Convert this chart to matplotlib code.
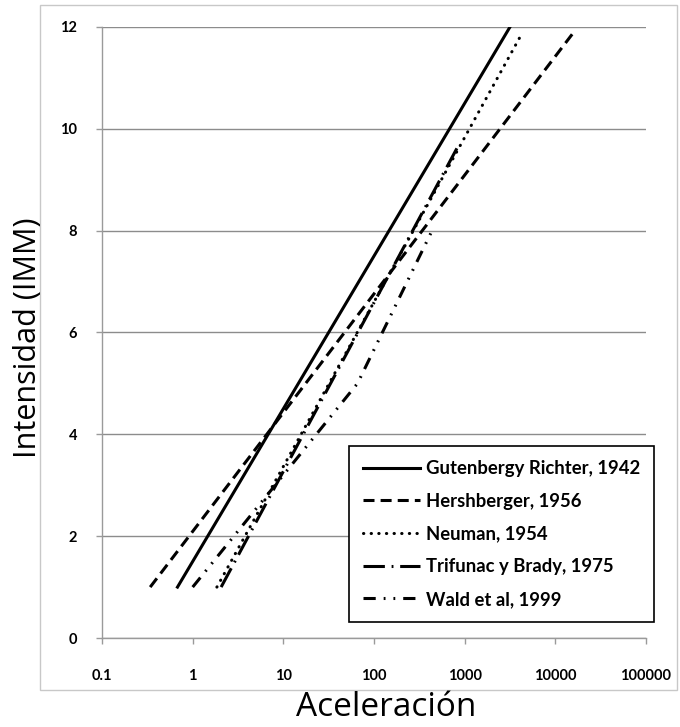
import matplotlib
matplotlib.use("Agg")
import matplotlib.pyplot as plt
from matplotlib.patches import Rectangle

# acceleration (cm/s2) vs MMI intensity, straight lines on a log axis
gr_acc = [0.68, 3160]
gr_int = [1, 12]

hersh_acc = [0.34, 16000]
hersh_int = [1, 11.9]

neuman_acc = [1.85, 4370]
neuman_int = [1, 11.9]

trif_acc = [2.06, 870]
trif_int = [1, 9.7]

wald_acc = [1.0, 65.8, 437]
wald_int = [1, 5, 8]

labels = ["Gutenbergy Richter, 1942", "Hershberger, 1956", "Neuman, 1954",
          "Trifunac y Brady, 1975", "Wald et al, 1999"]
xticks = [0.1, 1, 10, 100, 1000, 10000, 100000]
xtick_labels = ["0.1", "1", "10", "100", "1000", "10000", "100000"]
yticks = [0, 2, 4, 6, 8, 10, 12]

fig = plt.figure(figsize=(6.8, 7.27), dpi=100)
ax = fig.add_axes([0.15, 0.1224, 0.80, 0.8405])

lw = 2.2
ax.plot(gr_acc, gr_int, color="black", lw=lw, label=labels[0])
ax.plot(hersh_acc, hersh_int, color="black", lw=lw, dashes=(3.6, 2.0), label=labels[1])
ax.plot(neuman_acc, neuman_int, color="black", lw=lw, dashes=(0.1, 2.4),
        dash_capstyle="round", label=labels[2])
ax.plot(trif_acc, trif_int, color="black", lw=lw, dashes=(7, 2.2, 0.6, 2.2), label=labels[3])
ax.plot(wald_acc, wald_int, color="black", lw=lw,
        dashes=(4, 2.6, 0.6, 2.6, 0.6, 2.6), label=labels[4])

ax.set_xscale("log")
ax.set_xlim(0.1, 100000)
ax.set_ylim(0, 12)
ax.set_xticks(xticks)
ax.set_xticklabels(xtick_labels)
ax.minorticks_off()
ax.set_yticks(yticks)

ax.yaxis.grid(True, color="#8c8c8c", lw=1.0)
ax.set_axisbelow(True)
for s in ["top", "right"]:
    ax.spines[s].set_visible(False)
for s in ["left", "bottom"]:
    ax.spines[s].set_color("#9a9a9a")
    ax.spines[s].set_linewidth(1.0)

ax.tick_params(axis="both", colors="#9a9a9a", length=4, width=1)
ax.tick_params(axis="x", pad=18, labelcolor="black")
ax.tick_params(axis="y", pad=14, labelcolor="black")
for t in ax.get_xticklabels() + ax.get_yticklabels():
    t.set_fontfamily("Lato")
    t.set_fontweight("bold")
    t.set_fontsize(10.5)

fig.text(386 / 680, 1 - 707 / 727, "Aceleración", ha="center", va="center",
         fontsize=24, family="Open Sans")
fig.text(28 / 680, 1 - 338 / 727, "Intensidad (IMM)", ha="center", va="center",
         rotation=90, fontsize=22, family="Open Sans")

leg = ax.legend(loc="upper left", bbox_to_anchor=(340 / 680, 1 - 437 / 727),
                bbox_transform=fig.transFigure, frameon=True, fancybox=False,
                edgecolor="black", framealpha=1, handlelength=3.1,
                handletextpad=0.3, labelspacing=0.85, borderpad=0.75,
                prop=dict(family="Lato", weight="bold", size=13.3))
leg.get_frame().set_linewidth(1.2)

# light grey border round the whole chart
fig.patches.append(Rectangle((40 / 680, 1 - 690 / 727), 637 / 680, 685 / 727,
                             transform=fig.transFigure, fill=False,
                             edgecolor="#c8c8c8", lw=1.0))

fig.savefig("out.png", dpi=100)
